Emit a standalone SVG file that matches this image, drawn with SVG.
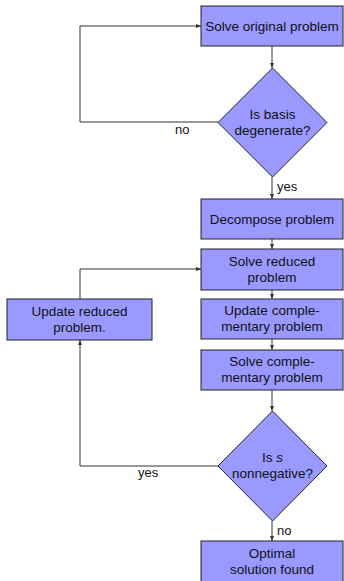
<svg xmlns="http://www.w3.org/2000/svg" width="344" height="581" viewBox="0 0 344 581">
<style>
.n{fill:#9999ff;stroke:#222;stroke-width:1}
.t{font-family:"Liberation Sans",Arial,sans-serif;font-size:13.5px;fill:#111;text-anchor:middle}
.l{font-family:"Liberation Sans",Arial,sans-serif;font-size:13px;fill:#111}
.c{fill:none;stroke:#333;stroke-width:1}
</style>
<defs>
<marker id="a" markerWidth="5" markerHeight="4" refX="5" refY="2" orient="auto" markerUnits="userSpaceOnUse">
<path d="M0,0 L5,2 L0,4 Z" fill="#333"/>
</marker>
</defs>
<rect width="344" height="581" fill="#fff"/>
<g id="connectors">
<path class="c" d="M272,46 V68" marker-end="url(#a)"/>
<path class="c" d="M218,122 H80 V26 H201" marker-end="url(#a)"/>
<path class="c" d="M272,177 V199" marker-end="url(#a)"/>
<path class="c" d="M272,239 V249" marker-end="url(#a)"/>
<path class="c" d="M272,290 V299" marker-end="url(#a)"/>
<path class="c" d="M272,339 V350" marker-end="url(#a)"/>
<path class="c" d="M272,390 V411" marker-end="url(#a)"/>
<path class="c" d="M218,466 H80 V340" marker-end="url(#a)"/>
<path class="c" d="M80,299 V269 H201" marker-end="url(#a)"/>
<path class="c" d="M272,521 V541" marker-end="url(#a)"/>
<text class="l" x="175" y="134">no</text>
<text class="l" x="277" y="191">yes</text>
<text class="l" x="138" y="477">yes</text>
<text class="l" x="277" y="535">no</text>
</g>
<g id="solve-original">
<rect class="n" x="201" y="6" width="142" height="40"/>
<text class="t" x="272" y="30.5">Solve original problem</text>
</g>
<g id="is-degenerate">
<path class="n" d="M272.5,68 L327,122.5 L272.5,177 L218,122.5 Z"/>
<text class="t" x="272.5" y="118.5">Is basis</text>
<text class="t" x="272.5" y="134.5">degenerate?</text>
</g>
<g id="decompose">
<rect class="n" x="201" y="199" width="142" height="40"/>
<text class="t" x="272" y="223.5">Decompose problem</text>
</g>
<g id="solve-reduced">
<rect class="n" x="201" y="249" width="142" height="41"/>
<text class="t" x="272" y="265.5">Solve reduced</text>
<text class="t" x="272" y="281.5">problem</text>
</g>
<g id="update-complementary">
<rect class="n" x="201" y="299" width="142" height="40"/>
<text class="t" x="272" y="315">Update comple-</text>
<text class="t" x="272" y="331">mentary problem</text>
</g>
<g id="solve-complementary">
<rect class="n" x="201" y="350" width="142" height="40"/>
<text class="t" x="272" y="366">Solve comple-</text>
<text class="t" x="272" y="382">mentary problem</text>
</g>
<g id="update-reduced">
<rect class="n" x="7" y="299" width="145" height="41"/>
<text class="t" x="79.5" y="315.5">Update reduced</text>
<text class="t" x="79.5" y="331.5">problem.</text>
</g>
<g id="is-s-nonnegative">
<path class="n" d="M272.5,411 L327,466 L272.5,521 L218,466 Z"/>
<text class="t" x="272.5" y="462">Is <tspan font-style="italic">s</tspan></text>
<text class="t" x="272.5" y="478">nonnegative?</text>
</g>
<g id="optimal">
<rect class="n" x="201" y="541" width="142" height="45"/>
<text class="t" x="272" y="558">Optimal</text>
<text class="t" x="272" y="574">solution found</text>
</g>
</svg>
